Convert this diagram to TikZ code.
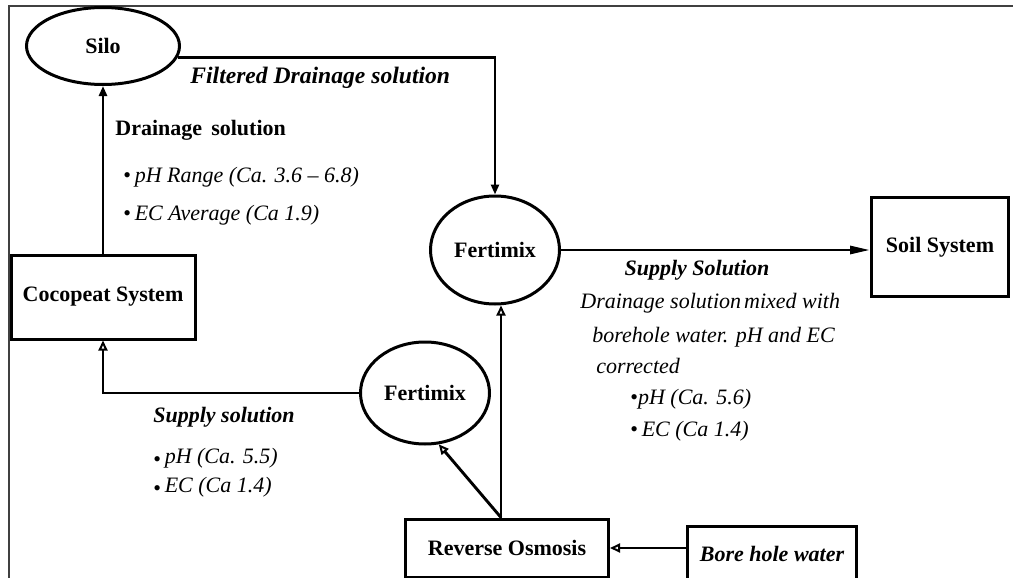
\documentclass[tikz,border=0pt]{standalone}
\usepackage{fontspec}
\setmainfont{Liberation Serif}
\usetikzlibrary{shapes.geometric,arrows.meta,calc}
\begin{document}
\begin{tikzpicture}[x=0.5pt,y=-0.5pt,
  every node/.style={font=\fontsize{11}{13}\selectfont},
  oval/.style={draw,ellipse,line width=1.5pt,inner sep=0pt,font=\fontsize{11}{13}\selectfont\bfseries},
  boxnode/.style={draw,rectangle,line width=1.5pt,inner sep=0pt,font=\fontsize{11}{13}\selectfont\bfseries},
  conn/.style={line width=1.45pt},
  tipfill/.style={-{Triangle[length=5pt,width=4pt]}},
  tiplong/.style={-{Triangle[length=10pt,width=4pt]}},
  tipopen/.style={-{Triangle[open,length=5pt,width=4.5pt,line width=1pt]}},
  lbl/.style={anchor=west,inner sep=0pt,font=\fontsize{11}{13}\selectfont\itshape},
  lblb/.style={anchor=west,inner sep=0pt,font=\fontsize{11}{13}\selectfont\bfseries\itshape},
  ]
\useasboundingbox (0,0) rectangle (1013,578);
% frame
\draw[line width=1pt,black!75] (9,580) -- (9,6) -- (1015,6);

% nodes
\node[oval,minimum width=76.5pt,minimum height=38.5pt] (silo) at (103,46) {Silo};
\node[oval,minimum width=64.5pt,minimum height=54pt] (f1) at (495,250) {Fertimix};
\node[oval,minimum width=64.5pt,minimum height=51pt] (f2) at (425,393) {Fertimix};
\node[boxnode,minimum width=92pt,minimum height=42pt] (coco) at (103,297) {Cocopeat System};
\node[boxnode,minimum width=68.5pt,minimum height=49.5pt] (soil) at (940,247) {Soil System};
\node[boxnode,minimum width=101.5pt,minimum height=29pt] (ro) at (507,548) {Reverse Osmosis};
\node[boxnode,minimum width=84.5pt,minimum height=28pt,font=\fontsize{11}{13}\selectfont\bfseries\itshape] (bore) at (772,554) {Bore hole water};

% connectors
\draw[conn,tipfill] (coco.north) -- (silo.south);
\draw[conn,tipfill] (silo.-9) -| (f1.north);
\draw[conn,tiplong] (f1.east) -- (f1.east -| soil.west);
\coordinate (rotop) at ($(ro.north)+(-6,0)$);
\draw[conn,tipopen] (rotop) -- (rotop |- f1.south);
\draw[conn,tipopen] (rotop) -- (f2.-75);
\draw[conn,tipopen] (f2.west) -| (coco.south);
\draw[conn,tipopen] (bore.west |- ro.east) -- (ro.east);

% labels
\node[lblb,font=\fontsize{11.8}{13}\selectfont\bfseries\itshape] (l1) at (190,78) {Filtered Drainage solution};
\node[anchor=west,inner sep=0pt,font=\fontsize{11}{13}\selectfont\bfseries] (l2) at (115,130) {Drainage\, solution};
\node[lbl] (l3) at (123,177) {{\upshape•}\,pH Range (Ca. 3.6 – 6.8)};
\node[lbl] (l4) at (123,215) {{\upshape•}\,EC Average (Ca 1.9)};

\node[lblb,anchor=center] (l5) at (697,270) {Supply Solution};
\node[lbl] (l6) at (580,303) {Drainage solution\hspace{1.5pt}mixed with};
\node[lbl] (l7) at (592,337) {borehole water. pH and EC};
\node[lbl] (l8) at (596,366) {corrected};
\node[lbl] (l9) at (630,399) {{\upshape•}pH (Ca. 5.6)};
\node[lbl] (l10) at (630,431) {{\upshape•}\,EC (Ca 1.4)};

\node[lblb] (l11) at (153,417) {Supply solution};
\node[lbl] (l12) at (153,458) {{\upshape\raisebox{-1.5pt}{•}}\,pH (Ca. 5.5)};
\node[lbl] (l13) at (153,487) {{\upshape\raisebox{-1.5pt}{•}}\,EC (Ca 1.4)};
\end{tikzpicture}
\end{document}
